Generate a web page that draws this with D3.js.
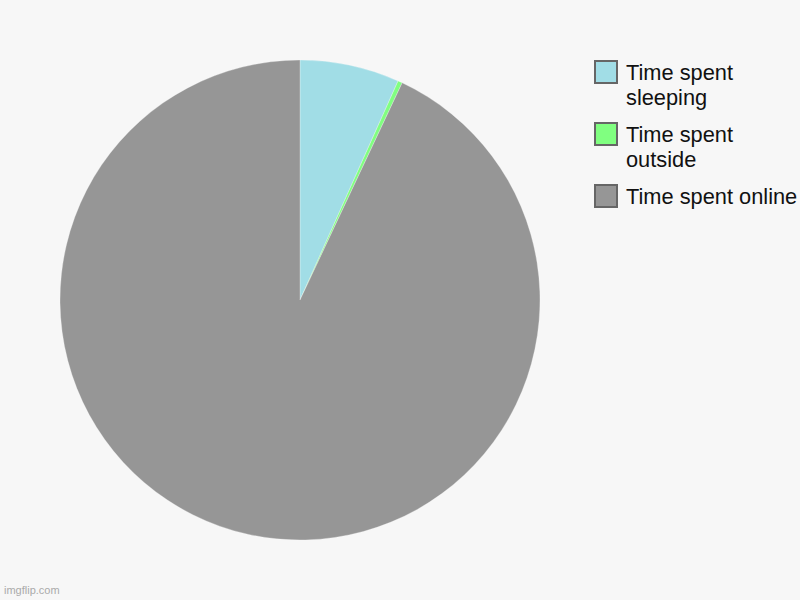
<!DOCTYPE html>
<html><head><meta charset="utf-8">
<script src="https://cdn.jsdelivr.net/npm/d3@7"></script>
<style>html,body{margin:0;padding:0;background:#f7f7f7;}svg{display:block;}</style>
</head><body>
<svg id="chart" width="800" height="600"></svg>
<script>
const categories = ["Time spent sleeping", "Time spent outside", "Time spent online"];
const legendLines = [["Time spent", "sleeping"], ["Time spent", "outside"], ["Time spent online"]];
const values = [6.7, 0.3, 93.0];
const colors = ["#a1dde6", "#80ff80", "#969696"];

const svg = d3.select("#chart");
svg.append("rect").attr("width", 800).attr("height", 600).attr("fill", "#f7f7f7");

const cx = 300, cy = 300, r = 240;
const pie = d3.pie().sort(null).value(d => d)(values);
const arc = d3.arc().innerRadius(0).outerRadius(r);
const g = svg.append("g").attr("transform", `translate(${cx},${cy})`);
g.selectAll("path").data(pie).join("path")
  .attr("d", arc)
  .attr("fill", (d, i) => colors[i])
  .attr("stroke", "#f7f7f7")
  .attr("stroke-width", 0.3);

const legend = svg.append("g");
const itemY = [61, 123, 185];
categories.forEach((c, i) => {
  const y0 = itemY[i];
  legend.append("rect").attr("x", 595).attr("y", y0).attr("width", 22).attr("height", 22)
    .attr("fill", colors[i]).attr("stroke", "#666").attr("stroke-width", 2);
  legendLines[i].forEach((t, j) => {
    legend.append("text").attr("x", 626).attr("y", y0 + 19 + j * 24.5)
      .attr("font-family", "Arial, 'Liberation Sans', sans-serif").attr("font-size", 21.8)
      .attr("fill", "#111").text(t);
  });
});

svg.append("text").attr("x", 4).attr("y", 594)
  .attr("font-family", "Arial, 'Liberation Sans', sans-serif").attr("font-size", 11)
  .attr("fill", "#aaa").text("imgflip.com");
</script>
</body></html>
